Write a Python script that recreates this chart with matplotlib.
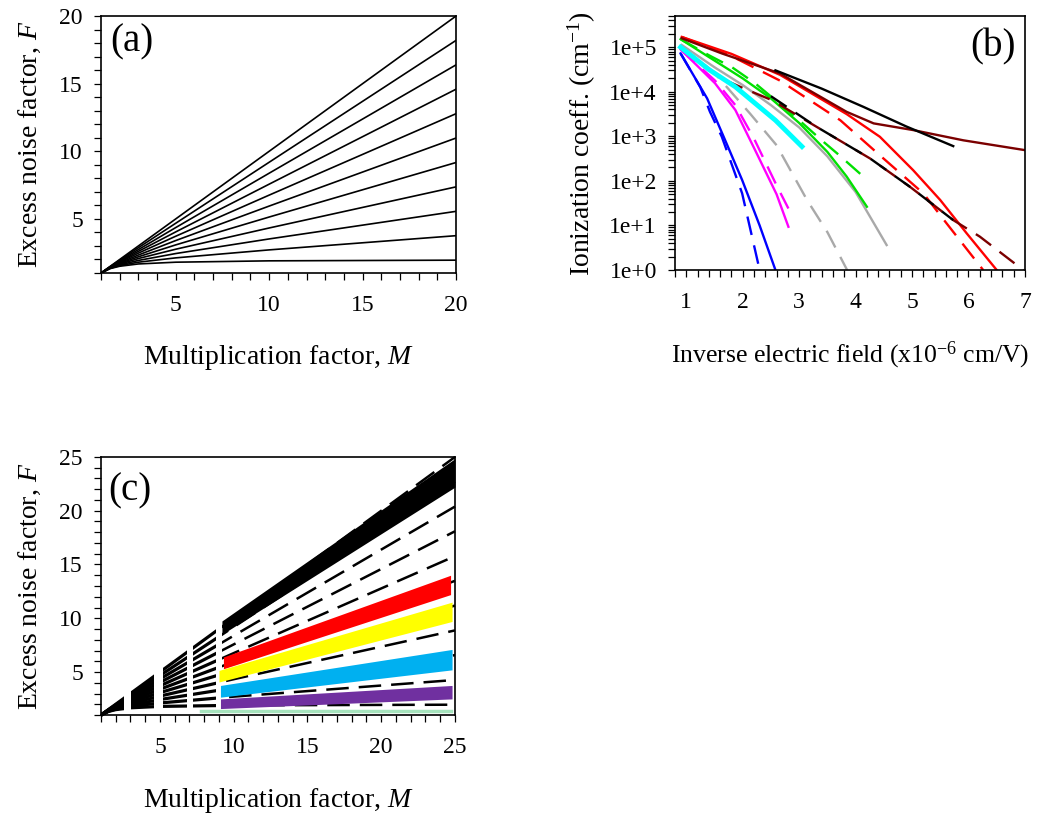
import numpy as np
import matplotlib
matplotlib.use("Agg")
import matplotlib.pyplot as plt
from matplotlib.ticker import MultipleLocator, FuncFormatter, LogLocator, NullFormatter
from matplotlib.patches import Rectangle

plt.rcParams["font.family"] = ["Liberation Serif", "DejaVu Serif"]
plt.rcParams["mathtext.fontset"] = "custom"
plt.rcParams["mathtext.rm"] = "Liberation Serif"
plt.rcParams["mathtext.it"] = "Liberation Serif:italic"

# ---------------- panel (a): F vs M for k = 0 ... 1 ----------------
a_M = [1, 1.5, 2, 3, 5, 10, 20]
a_F = [
    [1, 1.33, 1.50, 1.67, 1.80, 1.90, 1.95],
    [1, 1.35, 1.55, 1.80, 2.12, 2.71, 3.76],
    [1, 1.37, 1.60, 1.93, 2.44, 3.52, 5.56],
    [1, 1.38, 1.65, 2.07, 2.76, 4.33, 7.37],
    [1, 1.40, 1.70, 2.20, 3.08, 5.14, 9.17],
    [1, 1.42, 1.75, 2.33, 3.40, 5.95, 10.98],
    [1, 1.43, 1.80, 2.47, 3.72, 6.76, 12.78],
    [1, 1.45, 1.85, 2.60, 4.04, 7.57, 14.59],
    [1, 1.47, 1.90, 2.73, 4.36, 8.38, 16.39],
    [1, 1.48, 1.95, 2.87, 4.68, 9.19, 18.20],
    [1, 1.50, 2.00, 3.00, 5.00, 10.00, 20.00],
]

# ---------------- panel (b): ionization coefficients (log10 values) ----------------
blue_x = [0.9, 1.37, 1.69, 1.99, 2.3, 2.58]
blue_ly = [4.86, 3.85, 2.91, 2.02, 1.0, 0.0]
blue_d_x = [0.9, 1.25, 1.42, 1.63, 1.99, 2.3]
blue_d_ly = [4.86, 4.1, 3.55, 2.99, 1.72, 0.0]
mag_x = [0.9, 1.51, 1.87, 2.22, 2.6, 2.81]
mag_ly = [4.95, 4.19, 3.59, 2.69, 1.7, 0.97]
mag_d_x = [0.9, 1.51, 1.87, 2.2, 2.6, 2.81]
mag_d_ly = [4.95, 4.25, 3.7, 2.95, 1.9, 1.38]
cyan_x = [0.9, 1.4, 1.87, 2.58, 3.05]
cyan_ly = [5.0, 4.5, 4.11, 3.36, 2.77]
gray_x = [0.92, 1.5, 2.0, 2.5, 3.0, 3.5, 4.0, 4.55]
gray_ly = [5.05, 4.55, 4.15, 3.7, 3.2, 2.55, 1.75, 0.56]
gray_d_x = [0.92, 1.48, 2.13, 2.6, 3.14, 3.5, 3.85]
gray_d_ly = [5.0, 4.45, 3.51, 2.8, 1.57, 0.85, 0.0]
green_x = [0.9, 1.5, 2.0, 2.5, 3.0, 3.5, 3.84, 4.2]
green_ly = [5.18, 4.7, 4.3, 3.85, 3.3, 2.65, 2.1, 1.42]
green_d_x = [0.9, 1.4, 1.81, 2.22, 2.58, 2.93, 3.4, 3.67, 4.17]
green_d_ly = [5.18, 4.82, 4.55, 4.19, 3.81, 3.44, 2.91, 2.62, 2.06]
red_x = [0.92, 1.8, 2.66, 3.84, 4.43, 5.02, 5.5, 5.97, 6.5]
red_ly = [5.23, 4.85, 4.38, 3.5, 2.99, 2.24, 1.57, 0.82, 0.0]
red_d_x = [0.92, 1.8, 2.66, 3.73, 4.46, 5.2, 5.61, 6.26]
red_d_ly = [5.23, 4.8, 4.25, 3.36, 2.54, 1.72, 1.05, 0.0]
black_x = [2.58, 3.4, 4.14, 4.9, 5.73]
black_ly = [4.48, 4.07, 3.66, 3.22, 2.78]
black_d_x = [2.5, 3.3, 4.26, 4.96, 5.73]
black_d_ly = [3.9, 3.22, 2.5, 1.87, 1.12]
maroon_x = [0.92, 1.63, 2.66, 3.84, 4.32, 5.02, 5.91, 7.0]
maroon_ly = [5.2, 4.86, 4.41, 3.55, 3.29, 3.14, 2.91, 2.69]
maroon_d_x = [1.69, 2.01, 2.52, 3.3, 4.26, 4.96, 5.73, 6.2, 6.97]
maroon_d_ly = [4.26, 4.08, 3.81, 3.22, 2.5, 1.87, 1.12, 0.75, 0.0]

# ---------------- panel (c): F vs M with measured ranges ----------------
c_M = [1, 1.5, 2, 3, 5, 10, 25]
c_F = [
    [1, 1.33, 1.50, 1.67, 1.80, 1.90, 1.96],
    [1, 1.35, 1.55, 1.80, 2.12, 2.71, 4.26],
    [1, 1.37, 1.60, 1.93, 2.44, 3.52, 6.57],
    [1, 1.38, 1.65, 2.07, 2.76, 4.33, 8.87],
    [1, 1.40, 1.70, 2.20, 3.08, 5.14, 11.18],
    [1, 1.42, 1.75, 2.33, 3.40, 5.95, 13.48],
    [1, 1.43, 1.80, 2.47, 3.72, 6.76, 15.78],
    [1, 1.45, 1.85, 2.60, 4.04, 7.57, 18.09],
    [1, 1.47, 1.90, 2.73, 4.36, 8.38, 20.39],
    [1, 1.48, 1.95, 2.87, 4.68, 9.19, 22.70],
    [1, 1.50, 2.00, 3.00, 5.00, 10.00, 25.00],
]
c_dash_windows = [(1.0, 2.57), (3.03, 4.6), (5.18, 6.81), (7.22, 8.8)]
band_black_M, band_black_lo, band_black_hi = [9.2, 25.0], [8.5, 22.2], [9.75, 24.85]
band_red_M, band_red_lo, band_red_hi = [9.3, 24.7], [5.3, 12.2], [6.4, 14.0]
band_yel_M, band_yel_lo, band_yel_hi = [9.0, 24.8], [4.07, 9.7], [5.15, 11.5]
band_blue_M, band_blue_lo, band_blue_hi = [9.1, 24.8], [2.66, 5.2], [3.75, 7.1]
band_purp_M, band_purp_lo, band_purp_hi = [9.1, 24.8], [1.6, 2.5], [2.5, 3.75]
green_line_M, green_line_F = [7.8, 24.7], [1.35, 1.35]

fig = plt.figure(figsize=(10.4, 8.14), dpi=100)
ax_a = fig.add_axes([0.0971, 0.6646, 0.3414, 0.3157])
ax_b = fig.add_axes([0.649, 0.6683, 0.3365, 0.312])
ax_c = fig.add_axes([0.0971, 0.1216, 0.3404, 0.317])

tick_fs = 17
label_fs = 20
letter_fs = 28


def style_axes(ax):
    for s in ax.spines.values():
        s.set_linewidth(1.2)
    ax.tick_params(which="both", direction="out", top=False, right=False,
                   length=5, width=0.9, labelsize=tick_fs)
    ax.tick_params(axis="x", which="both", pad=11)
    ax.tick_params(axis="y", which="both", pad=8)


# (a)
for row in a_F:
    ax_a.plot(a_M, row, color="black", lw=1.2)
ax_a.set_xlim(1, 20)
ax_a.set_ylim(1, 20)
ax_a.set_xticks([5, 10, 15, 20])
ax_a.set_yticks([5, 10, 15, 20])
ax_a.xaxis.set_minor_locator(MultipleLocator(1))
ax_a.yaxis.set_minor_locator(MultipleLocator(1))
style_axes(ax_a)
ax_a.set_xlabel("Multiplication factor, $\\mathit{M}$", fontsize=label_fs, labelpad=19)
ax_a.set_ylabel("Excess noise factor, $\\mathit{F}$", fontsize=label_fs, labelpad=12)
ax_a.text(0.025, 0.97, "(a)", transform=ax_a.transAxes, fontsize=letter_fs, ha="left", va="top")

# (b)
b_series = [
    (blue_x, blue_ly, "#0000ff", "-"), (blue_d_x, blue_d_ly, "#0000ff", "--"),
    (mag_x, mag_ly, "#ff00ff", "-"), (mag_d_x, mag_d_ly, "#ff00ff", "--"),
    (gray_x, gray_ly, "#a9a9a9", "-"), (gray_d_x, gray_d_ly, "#a9a9a9", "--"),
    (green_x, green_ly, "#00e000", "-"), (green_d_x, green_d_ly, "#00e000", "--"),
    (red_x, red_ly, "#ff0000", "-"), (red_d_x, red_d_ly, "#ff0000", "--"),
    (maroon_x, maroon_ly, "#7b0000", "-"), (maroon_d_x, maroon_d_ly, "#7b0000", "--"),
    (black_x, black_ly, "#000000", "-"), (black_d_x, black_d_ly, "#000000", "--"),
]
for x, ly, col, ls in b_series:
    y = 10 ** np.array(ly)
    if ls == "-":
        ax_b.plot(x, y, color=col, lw=1.7)
    else:
        ax_b.plot(x, y, color=col, lw=1.7, dashes=(8, 4.5))
ax_b.plot(cyan_x, 10 ** np.array(cyan_ly), color="#00ffff", lw=3.5)
ax_b.set_yscale("log")
ax_b.set_xlim(0.8, 7.0)
ax_b.set_ylim(1, 5e5)
ax_b.set_xticks([1, 2, 3, 4, 5, 6, 7])
ax_b.xaxis.set_minor_locator(MultipleLocator(0.2))
ax_b.yaxis.set_major_locator(LogLocator(base=10, numticks=10))
ax_b.yaxis.set_minor_locator(LogLocator(base=10, subs=np.arange(2, 10), numticks=20))
ax_b.yaxis.set_minor_formatter(NullFormatter())
ax_b.yaxis.set_major_formatter(FuncFormatter(lambda v, p: "1e+%d" % int(round(np.log10(v)))))
style_axes(ax_b)
ax_b.set_xlabel("Inverse electric field (x10$^{-6}$ cm/V)", fontsize=18.5, labelpad=19)
ax_b.set_ylabel("Ionization coeff. (cm$^{-1}$)", fontsize=label_fs, labelpad=8)
ax_b.text(0.975, 0.95, "(b)", transform=ax_b.transAxes, fontsize=letter_fs, ha="right", va="top")

# (c)
for lo, hi in c_dash_windows:
    for row in c_F:
        ln, = ax_c.plot(c_M, row, color="black", lw=2.3)
        ln.set_clip_path(Rectangle((lo, 0), hi - lo, 30, transform=ax_c.transData))
for row in c_F:
    ln, = ax_c.plot(c_M, row, color="black", lw=1.8, dashes=(9, 4))
    ln.set_clip_path(Rectangle((9.2, 0), 16, 30, transform=ax_c.transData))

ax_c.plot(green_line_M, green_line_F, color="#a6e3bd", lw=2.5)
bands = [
    (band_black_M, band_black_lo, band_black_hi, "black"),
    (band_red_M, band_red_lo, band_red_hi, "#ff0000"),
    (band_yel_M, band_yel_lo, band_yel_hi, "#ffff00"),
    (band_blue_M, band_blue_lo, band_blue_hi, "#00b0f0"),
    (band_purp_M, band_purp_lo, band_purp_hi, "#7030a0"),
]
for m, lo, hi, col in bands:
    ax_c.fill_between(m, lo, hi, color=col, lw=0, zorder=3)

ax_c.set_xlim(1, 25)
ax_c.set_ylim(1, 25)
ax_c.set_xticks([5, 10, 15, 20, 25])
ax_c.set_yticks([5, 10, 15, 20, 25])
ax_c.xaxis.set_minor_locator(MultipleLocator(1))
ax_c.yaxis.set_minor_locator(MultipleLocator(1))
style_axes(ax_c)
ax_c.set_xlabel("Multiplication factor, $\\mathit{M}$", fontsize=label_fs, labelpad=20)
ax_c.set_ylabel("Excess noise factor, $\\mathit{F}$", fontsize=label_fs, labelpad=12)
ax_c.text(0.02, 0.94, "(c)", transform=ax_c.transAxes, fontsize=letter_fs, ha="left", va="top")

fig.savefig("out.png", dpi=100)
